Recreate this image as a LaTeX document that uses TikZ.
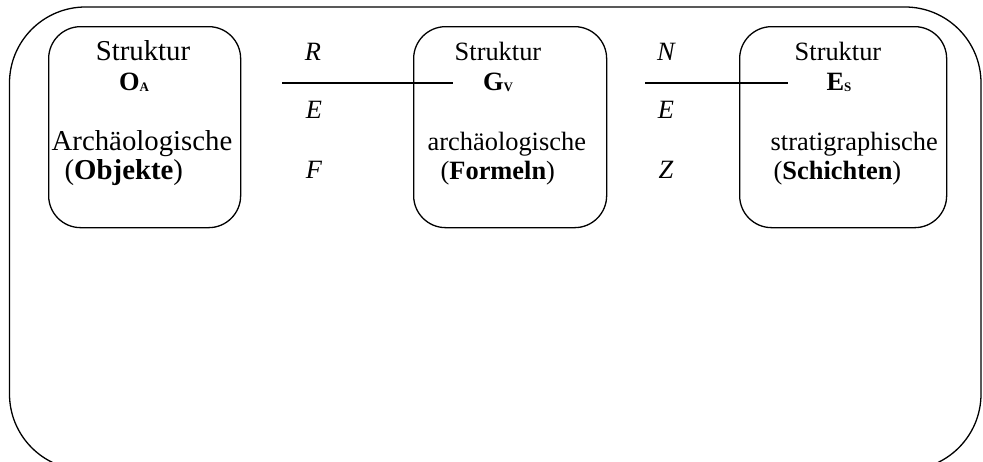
\documentclass[tikz,border=0pt]{standalone}
\usepackage{fontspec}
\setmainfont{Liberation Serif}
\newcommand{\subsc}[1]{\raisebox{-1pt}{\fontsize{13}{13}\selectfont\bfseries #1}}
\begin{document}
\begin{tikzpicture}[x=1pt,y=-1pt,line width=1.3pt,
  box/.style={draw,rounded corners=32pt,inner sep=0pt,anchor=north west},
  txt/.style={inner sep=0pt,font=\fontsize{26.4}{30}\selectfont},
  bigtxt/.style={inner sep=0pt,font=\fontsize{28.8}{32}\selectfont},
  lbl/.style={txt,anchor=base,font=\fontsize{26.4}{30}\selectfont\itshape}]
\useasboundingbox (0,0) rectangle (983,461);
\clip (0,0) rectangle (983,461);
% outer frame
\draw[rounded corners=76pt] (9.5,7) rectangle (981,470);
% boxes
\node[box,minimum width=192pt,minimum height=201pt] (b1) at (48,26) {};
\node[box,minimum width=193pt,minimum height=201pt] (b2) at (413,26) {};
\node[box,minimum width=207pt,minimum height=201pt] (b3) at (739,26) {};
% box 1 texts
\node[bigtxt,anchor=base] (s1) at (143,60) {Struktur};
\node[txt,anchor=base] (o1) at (134,90) {\textbf{O}\subsc{A}};
\node[bigtxt,anchor=base west] (a1) at (51,150) {Archäologische};
\node[bigtxt,anchor=base west] (p1) at (64,179) {(\textbf{Objekte})};
% box 2 texts
\node[txt,anchor=base] (s2) at (498,60) {Struktur};
\node[txt,anchor=base] (o2) at (498,90) {\textbf{G}\subsc{V}};
\node[txt,anchor=base west] (a2) at (427,150) {archäologische};
\node[txt,anchor=base west] (p2) at (440,179) {(\textbf{Formeln})};
% box 3 texts
\node[txt,anchor=base] (s3) at (838,60) {Struktur};
\node[txt,anchor=base] (o3) at (839,90) {\textbf{E}\subsc{S}};
\node[txt,anchor=base west] (a3) at (770,150) {stratigraphische};
\node[txt,anchor=base west] (p3) at (773,179) {(\textbf{Schichten})};
% letters
\node[lbl] (r1) at (313,60) {R};
\node[lbl] (e1) at (314,118) {E};
\node[lbl] (f1) at (314,178) {F};
\node[lbl] (n2) at (666,60) {N};
\node[lbl] (e2) at (666,118) {E};
\node[lbl] (z2) at (666,178) {Z};
% connectors
\coordinate (l1a) at (282,83);
\coordinate (l1b) at (453,83);
\coordinate (l2a) at (645,83);
\coordinate (l2b) at (788,83);
\draw (l1a) -- (l1b);
\draw (l2a) -- (l2b);
\end{tikzpicture}
\end{document}
